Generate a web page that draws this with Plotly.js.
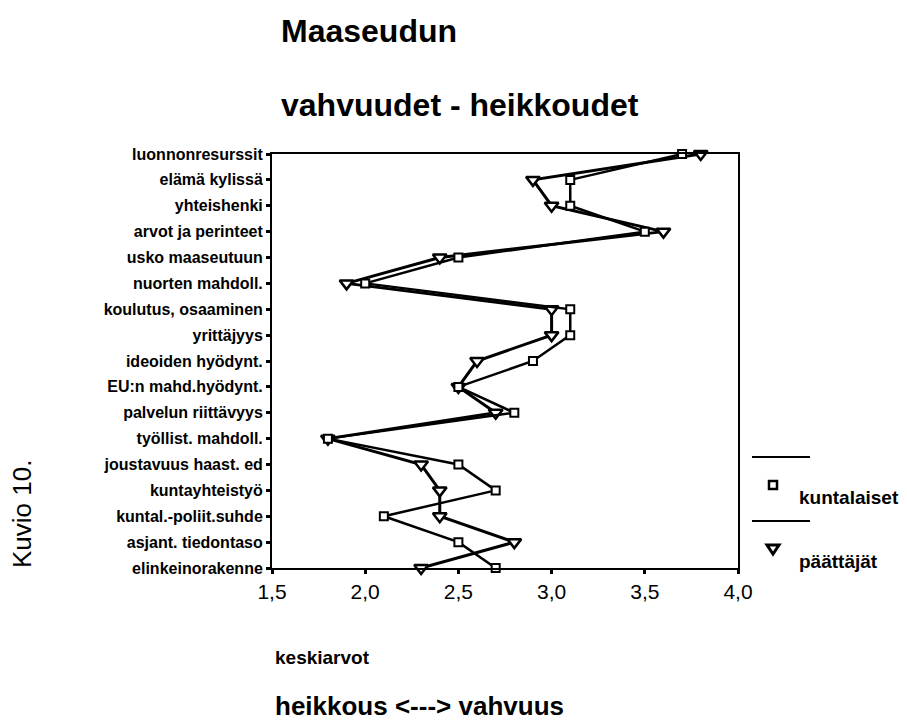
<!DOCTYPE html>
<html>
<head>
<meta charset="utf-8">
<script src="https://cdn.plot.ly/plotly-3.0.1.min.js"></script>
<style>html,body{margin:0;padding:0;background:#fff;}#chart{width:907px;height:725px;}</style>
</head>
<body>
<div id="chart"></div>
<script>
const categories = [
  "luonnonresurssit", "elämä kylissä", "yhteishenki", "arvot ja perinteet",
  "usko maaseutuun", "nuorten mahdoll.", "koulutus, osaaminen", "yrittäjyys",
  "ideoiden hyödynt.", "EU:n mahd.hyödynt.", "palvelun riittävyys",
  "työllist. mahdoll.", "joustavuus haast. ed", "kuntayhteistyö",
  "kuntal.-poliit.suhde", "asjant. tiedontaso", "elinkeinorakenne"
];
const kuntalaiset = [3.7, 3.1, 3.1, 3.5, 2.5, 2.0, 3.1, 3.1, 2.9, 2.5, 2.8, 1.8, 2.5, 2.7, 2.1, 2.5, 2.7];
const paattajat   = [3.8, 2.9, 3.0, 3.6, 2.4, 1.9, 3.0, 3.0, 2.6, 2.5, 2.7, 1.8, 2.3, 2.4, 2.4, 2.8, 2.3];
const xTicks = [1.5, 2.0, 2.5, 3.0, 3.5, 4.0];
const seriesNames = ["kuntalaiset", "päättäjät"];

const FONT = "Liberation Sans, Arial, sans-serif";

const traces = [
  {
    type: "scatter", mode: "lines+markers", name: seriesNames[1],
    x: paattajat, y: categories, cliponaxis: false,
    line: {color: "#000", width: 3},
    marker: {symbol: "triangle-down", size: 12, color: "#fff", line: {color: "#000", width: 2.5}}
  },
  {
    type: "scatter", mode: "lines+markers", name: seriesNames[0],
    x: kuntalaiset, y: categories, cliponaxis: false,
    line: {color: "#000", width: 2.5},
    marker: {symbol: "square", size: 8, color: "#fff", line: {color: "#000", width: 2}}
  }
];

const layout = {
  width: 907, height: 725,
  margin: {l: 272, r: 169, t: 154, b: 157, pad: 0},
  paper_bgcolor: "#fff", plot_bgcolor: "#fff",
  separators: ", ",
  showlegend: false,
  font: {family: FONT, color: "#000"},
  title: {
    text: "Maaseudun", x: 281/907, xanchor: "left", xref: "container",
    y: 1 - 31/725, yanchor: "middle", yref: "container",
    font: {family: FONT, size: 32, color: "#000", weight: "bold"}
  },
  xaxis: {
    range: [1.5, 4.0], tickvals: xTicks, tickformat: ".1f",
    showgrid: false, zeroline: false,
    showline: true, mirror: true, linecolor: "#000", linewidth: 2,
    ticks: "outside", ticklen: 4, tickwidth: 3, tickcolor: "#000",
    tickfont: {family: FONT, size: 21, color: "#000"}
  },
  yaxis: {
    type: "category", categoryorder: "array", categoryarray: categories,
    range: [categories.length - 1, 0],
    showgrid: false, zeroline: false,
    showline: true, mirror: true, linecolor: "#000", linewidth: 2,
    ticks: "outside", ticklen: 4, tickwidth: 3, tickcolor: "#000",
    tickfont: {family: FONT, size: 16, color: "#000", weight: "bold"}
  },
  shapes: [
    {type: "line", xref: "paper", yref: "paper", x0: (752-272)/466, x1: (810-272)/466,
     y0: (568-457)/414, y1: (568-457)/414, line: {color: "#000", width: 2}},
    {type: "line", xref: "paper", yref: "paper", x0: (752-272)/466, x1: (810-272)/466,
     y0: (568-521)/414, y1: (568-521)/414, line: {color: "#000", width: 2}},
    {type: "rect", xref: "paper", yref: "paper", xsizemode: "pixel", ysizemode: "pixel",
     xanchor: (773-272)/466, yanchor: (568-485)/414, x0: -4, x1: 4, y0: -4, y1: 4,
     line: {color: "#000", width: 2.5}, fillcolor: "#fff"},
    {type: "path", xref: "paper", yref: "paper", xsizemode: "pixel", ysizemode: "pixel",
     xanchor: (773-272)/466, yanchor: (568-549)/414,
     path: "M -6 4 L 6 4 L 0 -5 Z",
     line: {color: "#000", width: 3}, fillcolor: "#fff"}
  ],
  annotations: [
    {text: "<b>vahvuudet - heikkoudet</b>", xref: "paper", yref: "paper", x: (279-272)/466, y: (568-105)/414,
     xanchor: "left", yanchor: "middle", showarrow: false, font: {family: FONT, size: 32, color: "#000"}},
    {text: "<b>keskiarvot</b>", xref: "paper", yref: "paper", x: (273-272)/466, y: (568-657)/414,
     xanchor: "left", yanchor: "middle", showarrow: false, font: {family: FONT, size: 19, color: "#000"}},
    {text: "<b>heikkous &lt;---&gt; vahvuus</b>", xref: "paper", yref: "paper", x: (273-272)/466, y: (568-706)/414,
     xanchor: "left", yanchor: "middle", showarrow: false, font: {family: FONT, size: 26, color: "#000"}},
    {text: "Kuvio 10.", xref: "paper", yref: "paper", x: (22-272)/466, y: (568-514)/414,
     xanchor: "center", yanchor: "middle", textangle: -90, showarrow: false,
     font: {family: FONT, size: 26, color: "#000"}},
    {text: "<b>" + seriesNames[0] + "</b>", xref: "paper", yref: "paper", x: (797-272)/466, y: (568-497)/414,
     xanchor: "left", yanchor: "middle", showarrow: false, font: {family: FONT, size: 19, color: "#000"}},
    {text: "<b>" + seriesNames[1] + "</b>", xref: "paper", yref: "paper", x: (797-272)/466, y: (568-561)/414,
     xanchor: "left", yanchor: "middle", showarrow: false, font: {family: FONT, size: 19, color: "#000"}}
  ]
};

Plotly.newPlot("chart", traces, layout, {displayModeBar: false, staticPlot: true});
</script>
</body>
</html>
